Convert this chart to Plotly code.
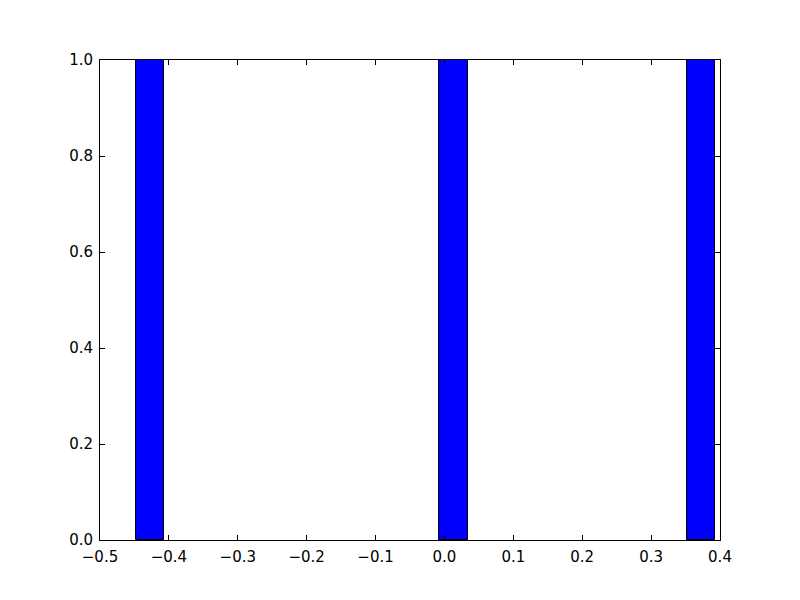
import plotly.graph_objects as go

bin_lefts = [-0.4477, -0.0079, 0.3523]
bin_rights = [-0.4071, 0.0340, 0.3925]
counts = [1, 1, 1]

centers = [(a + b) / 2 for a, b in zip(bin_lefts, bin_rights)]
widths = [b - a for a, b in zip(bin_lefts, bin_rights)]

fig = go.Figure(go.Bar(
    x=centers, y=counts, width=widths,
    marker=dict(color="#0000ff", line=dict(color="black", width=1)),
))

axis_common = dict(
    showgrid=False, zeroline=False, showline=True, linecolor="black", linewidth=1,
    mirror="allticks", ticks="inside", ticklen=5, tickcolor="black",
    tickfont=dict(family="DejaVu Sans", size=15, color="black"),
)
fig.update_layout(
    width=800, height=600,
    margin=dict(l=92, r=88, t=52, b=68),
    plot_bgcolor="white", paper_bgcolor="white",
    showlegend=False, bargap=0,
    xaxis=dict(range=[-0.5, 0.4], tickmode="array",
               tickvals=[-0.5, -0.4, -0.3, -0.2, -0.1, 0.0, 0.1, 0.2, 0.3, 0.4],
               ticktext=["\u22120.5", "\u22120.4", "\u22120.3", "\u22120.2", "\u22120.1",
                         "0.0", "0.1", "0.2", "0.3", "0.4"],
               ticklabelstandoff=3,
               **axis_common),
    yaxis=dict(range=[0, 1.0], tickmode="array",
               tickvals=[0, 0.2, 0.4, 0.6, 0.8, 1.0],
               ticktext=["0.0", "0.2", "0.4", "0.6", "0.8", "1.0"],
               ticklabelstandoff=3,
               **axis_common),
)
fig.write_html("out.html")
